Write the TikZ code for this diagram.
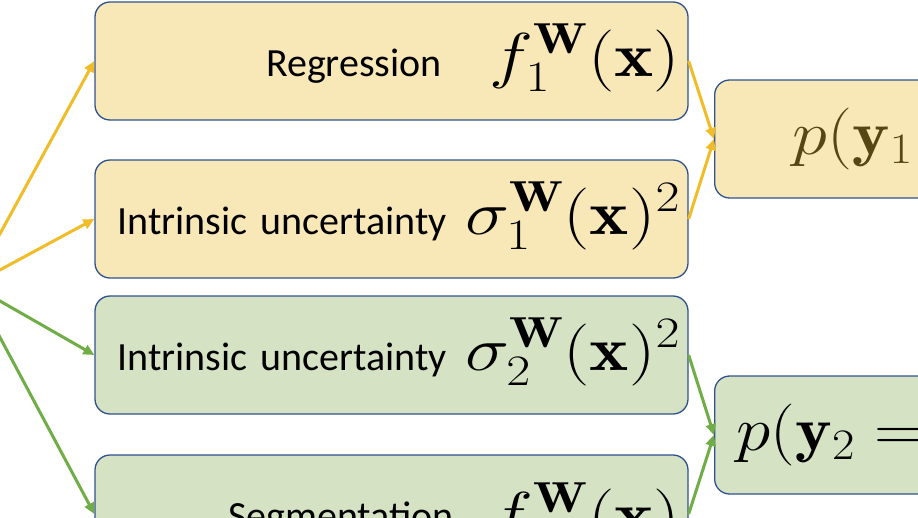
\RequirePackage{fix-cm}
\documentclass[tikz,border=0pt]{standalone}
\usepackage{fontspec}
\usepackage{tikz}
\usetikzlibrary{arrows.meta}
\newfontfamily\calibri{Carlito}
\definecolor{taskyellow}{RGB}{248,232,183}
\definecolor{taskgreen}{RGB}{214,226,196}
\definecolor{boxline}{RGB}{47,82,143}
\definecolor{arryellow}{RGB}{240,188,40}
\definecolor{arrgreen}{RGB}{112,173,71}
\definecolor{faded}{RGB}{85,70,20}
\newcommand\bigmath[2][1.2]{\scalebox{#1}[1]{\fontsize{62}{74}\selectfont$#2$}}

\begin{document}
\begin{tikzpicture}[x=1pt,y=-1pt,
    box/.style={draw=boxline,line width=1.3pt,rounded corners=15pt,
      minimum width=593pt,minimum height=118pt,inner xsep=8pt,
      text width=577pt,align=right,text height=50pt,text depth=20pt,
      font=\calibri\fontsize{40}{48}\selectfont},
    outbox/.style={box,anchor=west,minimum width=420pt,text width=404pt,align=left},
    flow/.style={line width=3pt,-{Triangle[length=11pt,width=10pt]}}]
    \useasboundingbox (0,0) rectangle (918,517);
    \clip (0,0) rectangle (918,517);
    \coordinate (src) at (-28,285);
    \node[box,fill=taskyellow] (reg)  at (391.5,61)  {Regression\hspace{48pt}\bigmath{f_1^{\mathbf W}(\mathbf x)}};
    \node[box,fill=taskyellow] (unc1) at (391.5,219) {Intrinsic uncertainty\hspace{18pt}\bigmath{\sigma_1^{\mathbf W}(\mathbf x)^2}};
    \node[box,fill=taskgreen]  (unc2) at (391.5,355) {Intrinsic uncertainty\hspace{18pt}\bigmath{\sigma_2^{\mathbf W}(\mathbf x)^2}};
    \node[box,fill=taskgreen]  (seg)  at (391.5,514) {Segmentation\hspace{36pt}\raisebox{-6pt}{\bigmath{f^{\mathbf W}(\mathbf x)}}\hspace*{16pt}};
    \node[outbox,fill=taskyellow,text=faded] (lik1) at (714,139) {\hspace*{70pt}\bigmath[1.14]{p(\mathbf y_1}};
    \node[outbox,fill=taskgreen] (lik2) at (714,435) {\hspace*{14pt}\bigmath[1.12]{p(\mathbf y_2 =}};
    \draw[flow,arryellow] (src) -- (reg.west);
    \draw[flow,arryellow] (src) -- (unc1.west);
    \draw[flow,arrgreen]  (src) -- (unc2.west);
    \draw[flow,arrgreen]  (src) -- (seg.west);
    \draw[flow,arryellow] (reg.east) -- (lik1.west);
    \draw[flow,arryellow] (unc1.east) -- (lik1.west);
    \draw[flow,arrgreen]  (unc2.east) -- (lik2.west);
    \draw[flow,arrgreen]  (seg.east) -- (lik2.west);
\end{tikzpicture}
\end{document}
